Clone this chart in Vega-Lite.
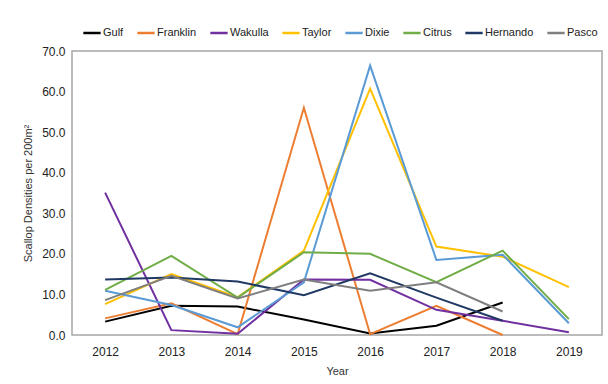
{
  "$schema": "https://vega.github.io/schema/vega-lite/v6.json",
  "autosize": {"type": "none"},
  "width": 530,
  "height": 284,
  "padding": {"left": 72, "top": 51, "right": 6, "bottom": 49},
  "background": "white",
  "config": {
    "font": "Liberation Sans",
    "view": {"stroke": "#a6a6a6", "strokeWidth": 1.5}
  },
  "data": {
    "values": [
      {"Year": "2012", "Site": "Gulf", "Density": 3.3},
      {"Year": "2013", "Site": "Gulf", "Density": 7.2},
      {"Year": "2014", "Site": "Gulf", "Density": 7.0},
      {"Year": "2015", "Site": "Gulf", "Density": 3.8},
      {"Year": "2016", "Site": "Gulf", "Density": 0.4},
      {"Year": "2017", "Site": "Gulf", "Density": 2.3},
      {"Year": "2018", "Site": "Gulf", "Density": 8.0},
      {"Year": "2012", "Site": "Franklin", "Density": 4.1},
      {"Year": "2013", "Site": "Franklin", "Density": 7.8},
      {"Year": "2014", "Site": "Franklin", "Density": 0.2},
      {"Year": "2015", "Site": "Franklin", "Density": 56.0},
      {"Year": "2016", "Site": "Franklin", "Density": 0.2},
      {"Year": "2017", "Site": "Franklin", "Density": 7.2},
      {"Year": "2018", "Site": "Franklin", "Density": 0.0},
      {"Year": "2012", "Site": "Wakulla", "Density": 35.1},
      {"Year": "2013", "Site": "Wakulla", "Density": 1.2},
      {"Year": "2014", "Site": "Wakulla", "Density": 0.3},
      {"Year": "2015", "Site": "Wakulla", "Density": 13.7},
      {"Year": "2016", "Site": "Wakulla", "Density": 13.6},
      {"Year": "2017", "Site": "Wakulla", "Density": 6.2},
      {"Year": "2018", "Site": "Wakulla", "Density": 3.5},
      {"Year": "2019", "Site": "Wakulla", "Density": 0.7},
      {"Year": "2012", "Site": "Taylor", "Density": 7.6},
      {"Year": "2013", "Site": "Taylor", "Density": 15.0},
      {"Year": "2014", "Site": "Taylor", "Density": 9.3},
      {"Year": "2015", "Site": "Taylor", "Density": 20.8},
      {"Year": "2016", "Site": "Taylor", "Density": 60.7},
      {"Year": "2017", "Site": "Taylor", "Density": 21.8},
      {"Year": "2018", "Site": "Taylor", "Density": 19.3},
      {"Year": "2019", "Site": "Taylor", "Density": 11.8},
      {"Year": "2012", "Site": "Dixie", "Density": 10.9},
      {"Year": "2013", "Site": "Dixie", "Density": 7.4},
      {"Year": "2014", "Site": "Dixie", "Density": 1.9},
      {"Year": "2015", "Site": "Dixie", "Density": 13.0},
      {"Year": "2016", "Site": "Dixie", "Density": 66.4},
      {"Year": "2017", "Site": "Dixie", "Density": 18.5},
      {"Year": "2018", "Site": "Dixie", "Density": 19.8},
      {"Year": "2019", "Site": "Dixie", "Density": 2.9},
      {"Year": "2012", "Site": "Citrus", "Density": 11.1},
      {"Year": "2013", "Site": "Citrus", "Density": 19.5},
      {"Year": "2014", "Site": "Citrus", "Density": 9.2},
      {"Year": "2015", "Site": "Citrus", "Density": 20.4},
      {"Year": "2016", "Site": "Citrus", "Density": 20.0},
      {"Year": "2017", "Site": "Citrus", "Density": 13.0},
      {"Year": "2018", "Site": "Citrus", "Density": 20.8},
      {"Year": "2019", "Site": "Citrus", "Density": 3.9},
      {"Year": "2012", "Site": "Hernando", "Density": 13.7},
      {"Year": "2013", "Site": "Hernando", "Density": 14.2},
      {"Year": "2014", "Site": "Hernando", "Density": 13.2},
      {"Year": "2015", "Site": "Hernando", "Density": 9.8},
      {"Year": "2016", "Site": "Hernando", "Density": 15.2},
      {"Year": "2017", "Site": "Hernando", "Density": 9.2},
      {"Year": "2018", "Site": "Hernando", "Density": 3.5},
      {"Year": "2012", "Site": "Pasco", "Density": 8.6},
      {"Year": "2013", "Site": "Pasco", "Density": 14.6},
      {"Year": "2014", "Site": "Pasco", "Density": 9.0},
      {"Year": "2015", "Site": "Pasco", "Density": 13.7},
      {"Year": "2016", "Site": "Pasco", "Density": 10.9},
      {"Year": "2017", "Site": "Pasco", "Density": 13.0},
      {"Year": "2018", "Site": "Pasco", "Density": 5.8}
    ]
  },
  "mark": {"type": "line", "strokeWidth": 2},
  "encoding": {
    "x": {
      "field": "Year",
      "type": "ordinal",
      "scale": {"type": "point", "padding": 0.5},
      "axis": {
        "title": "Year",
        "labelAngle": 0,
        "domain": false,
        "ticks": false,
        "labelPadding": 11,
        "labelFontSize": 12,
        "labelColor": "#222",
        "titleFontSize": 11,
        "titleFontWeight": "normal",
        "titleColor": "#333",
        "titlePadding": 8
      }
    },
    "y": {
      "field": "Density",
      "type": "quantitative",
      "scale": {"domain": [0, 70], "nice": false},
      "axis": {
        "title": "Scallop Densities per 200m²",
        "values": [0, 10, 20, 30, 40, 50, 60, 70],
        "format": ".1f",
        "grid": false,
        "domain": false,
        "ticks": false,
        "labelPadding": 7,
        "labelFontSize": 12,
        "labelColor": "#222",
        "titleFontSize": 11,
        "titleFontWeight": "normal",
        "titleColor": "#333",
        "titlePadding": 8
      }
    },
    "color": {
      "field": "Site",
      "type": "nominal",
      "scale": {
        "domain": ["Gulf", "Franklin", "Wakulla", "Taylor", "Dixie", "Citrus", "Hernando", "Pasco"],
        "range": ["#000000", "#ED7D31", "#7030A0", "#FFC000", "#5B9BD5", "#70AD47", "#203864", "#7F7F7F"]
      },
      "legend": {
        "title": null,
        "orient": "none",
        "direction": "horizontal",
        "legendX": 10,
        "legendY": -28,
        "symbolType": "stroke",
        "symbolSize": 300,
        "symbolStrokeWidth": 2.5,
        "labelFontSize": 11,
        "labelColor": "#222",
        "labelOffset": 1,
        "columnPadding": 8
      }
    }
  }
}
